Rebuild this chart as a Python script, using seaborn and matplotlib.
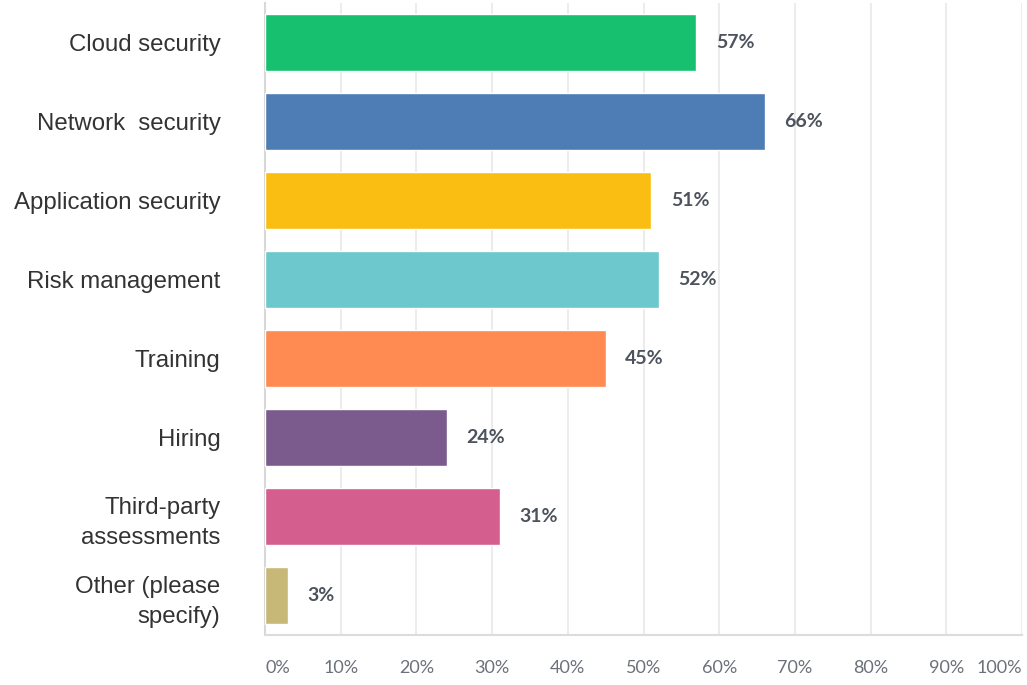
import matplotlib
matplotlib.use("Agg")
import matplotlib.pyplot as plt
import seaborn as sns
import pandas as pd

categories = ["Cloud security", "Network  security", "Application security", "Risk management",
              "Training", "Hiring", "Third-party\nassessments", "Other (please\nspecify)"]
values = [57, 66, 51, 52, 45, 24, 31, 3]
colors = ["#16C06E", "#4E7CB5", "#F9BE11", "#6CC8CC", "#FF8A52", "#7B5B8E", "#D45F8E", "#C8B878"]
xticks = [0, 10, 20, 30, 40, 50, 60, 70, 80, 90, 100]
xtick_labels = [f"{t}%" for t in xticks]

sns.set_theme(style="white")
plt.rcParams['font.family'] = ['Liberation Sans', 'DejaVu Sans']

df = pd.DataFrame({"cat": categories, "val": values})

fig = plt.figure(figsize=(10.27, 6.85), dpi=100)
ax = fig.add_axes([265/1027, 50/685, 757/1027, 632/685])

sns.barplot(data=df, x="val", y="cat", hue="cat", palette=colors, legend=False,
            orient="h", width=0.72, ax=ax, saturation=1, zorder=3)

ax.set_xlim(0, 100)
ax.set_ylim(7.5, -0.5)
ax.set_xlabel("")
ax.set_ylabel("")
ax.set_xticks(xticks)
ax.set_xticklabels(xtick_labels, family=['Lato', 'DejaVu Sans'], fontsize=13, color="#6b7079")
tl = ax.get_xticklabels()
tl[0].set_horizontalalignment("left")
tl[-1].set_horizontalalignment("right")
ax.tick_params(axis="x", length=0, pad=18)
ax.set_yticks(range(len(categories)))
ax.set_yticklabels(categories, linespacing=1.45, fontsize=17.3, color="#333333",
                   family=['Liberation Sans', 'DejaVu Sans'])
ax.tick_params(axis="y", length=0, pad=32)

ax.grid(axis="x", color="#ececec", linewidth=1.5, zorder=0)
ax.grid(axis="y", visible=False)
for s in ["top", "right"]:
    ax.spines[s].set_visible(False)
ax.spines["left"].set_color("#d8d8d8")
ax.spines["left"].set_linewidth(1.5)
ax.spines["bottom"].set_color("#dcdcdc")
ax.spines["bottom"].set_linewidth(1.5)

for i, v in enumerate(values):
    ax.text(v + 2.6, i, f"{v}%", va="center", ha="left", fontsize=14, fontweight="bold",
            color="#4d535c", family=['Lato', 'DejaVu Sans'])

fig.savefig("out.png", dpi=100)
